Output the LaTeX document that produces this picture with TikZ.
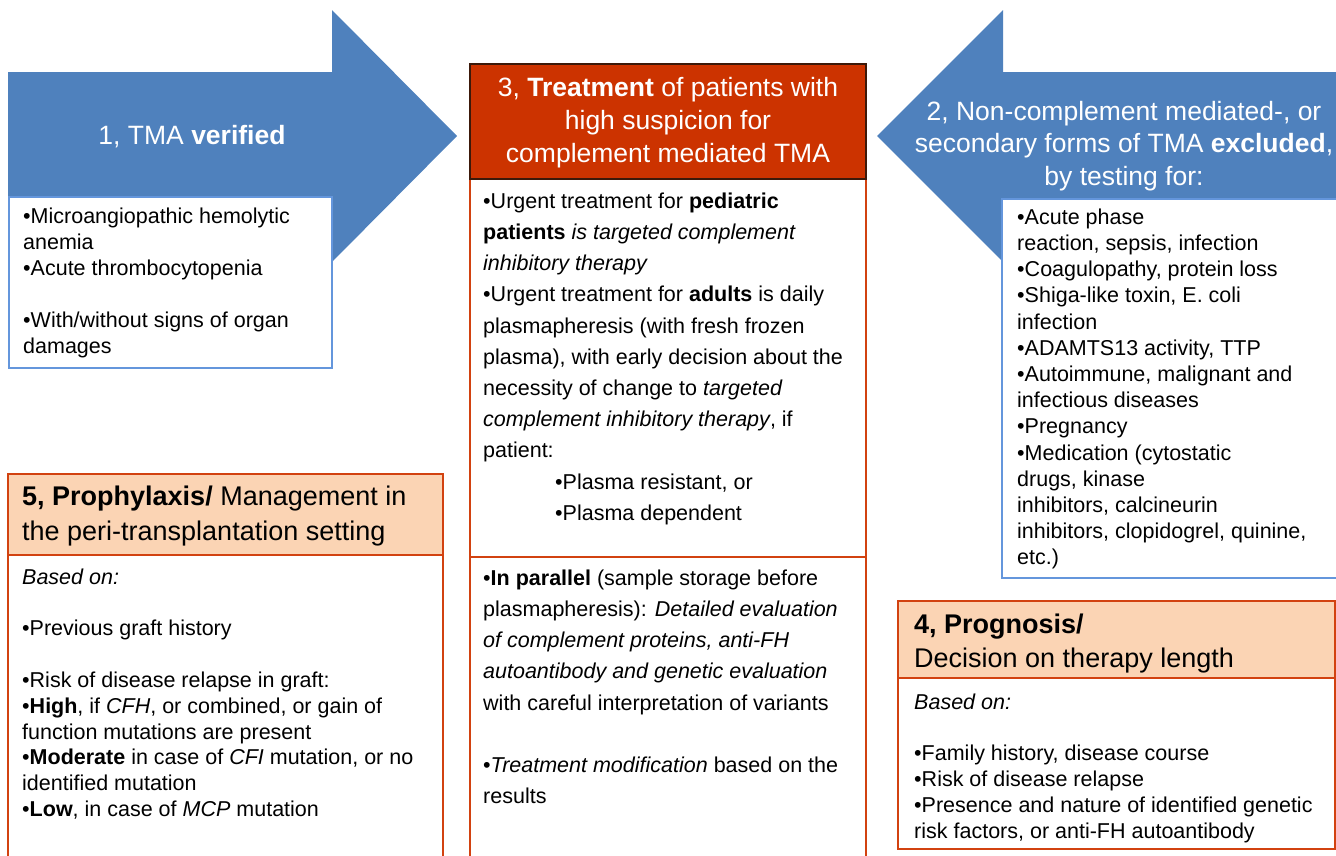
\documentclass[tikz,border=0pt]{standalone}
\usepackage{fontspec}
\setmainfont{Liberation Sans}
\definecolor{arrowblue}{RGB}{79,129,189}
\definecolor{boxblue}{RGB}{100,150,220}
\definecolor{hdrred}{RGB}{204,51,0}
\definecolor{hdrborder}{RGB}{60,25,10}
\definecolor{orborder}{RGB}{210,66,16}
\definecolor{peach}{RGB}{251,212,180}
\begin{document}
\begin{tikzpicture}[x=1pt,y=-1pt,
  blockarrow/.style={fill=arrowblue, draw=none},
  bluebox/.style={draw=boxblue, line width=2.5pt, fill=white},
  redhdr/.style={draw=hdrborder, line width=1.5pt, fill=hdrred},
  orbox/.style={draw=orborder, line width=2.5pt, fill=white},
  peachhdr/.style={draw=orborder, line width=2.5pt, fill=peach},
  bodytxt/.style={anchor=north west, inner sep=0pt, align=left, font=\fontsize{21.5}{26}\selectfont},
  widetxt/.style={anchor=north west, inner sep=0pt, align=left, font=\fontsize{21.5}{31.2}\selectfont},
  lowtxt/.style={anchor=north west, inner sep=0pt, align=left, font=\fontsize{21.5}{25.8}\selectfont},
  whitetitle/.style={inner sep=0pt, align=center, text=white, font=\fontsize{26.5}{32.5}\selectfont},
  peachtitle/.style={anchor=north west, inner sep=0pt, align=left, font=\fontsize{27}{35}\selectfont}
]
\useasboundingbox (0,0) rectangle (1336,855);

% ---- block arrows ----
\fill[blockarrow] (8,72) -- (332,72) -- (332,10) -- (457,136) -- (332,262) -- (332,200) -- (8,200) -- cycle;
\fill[blockarrow] (1340,72) -- (1003,72) -- (1003,10) -- (877,136) -- (1003,262) -- (1003,200) -- (1340,200) -- cycle;

% ---- boxes ----
\draw[bluebox] (9,197) rectangle (332,368);
\draw[bluebox] (1002,199) rectangle (1345,578);

\draw[orbox] (470,179) rectangle (866,557);
\draw[orbox] (470,557) rectangle (866,860);
\draw[redhdr] (470,64) rectangle (866,179);

\draw[orbox] (8,555) rectangle (443,862);
\draw[peachhdr] (8,474) rectangle (443,555);

\draw[orbox] (898,678) rectangle (1335,849);
\draw[peachhdr] (898,601) rectangle (1335,678);

% ---- titles ----
\node[whitetitle, anchor=base] (t1) at (192,144) {1, TMA \textbf{verified}};
\node[whitetitle, anchor=north] (t2) at (1124,98)
  {\rule{0pt}{22pt}2, Non-complement mediated-, or\\
   secondary forms of TMA \textbf{excluded},\\
   by testing for:};
\node[whitetitle, anchor=north, font=\fontsize{26.5}{33}\selectfont] (t3) at (668,74)
  {\rule{0pt}{22pt}3, \textbf{Treatment} of patients with\\
   high suspicion for\\
   complement mediated TMA};
\node[peachtitle] (t5) at (22,482)
  {\rule{0pt}{23pt}\textbf{5, Prophylaxis/} Management in\\
   the peri-transplantation setting};
\node[peachtitle, font=\fontsize{27}{34}\selectfont] (t4) at (914,610)
  {\rule{0pt}{23pt}\textbf{4, Prognosis/}\\
   Decision on therapy length};

% ---- body texts ----
\node[bodytxt] (b1) at (23,205)
  {\rule{0pt}{18pt}•Microangiopathic hemolytic\\
   anemia\\
   •Acute thrombocytopenia\\[26pt]
   •With/without signs of organ\\
   damages};

\node[widetxt] (b3a) at (483,190)
  {\rule{0pt}{18pt}•Urgent treatment for \textbf{pediatric}\\
   \textbf{patients} \textit{is targeted complement}\\
   \textit{inhibitory therapy}\\
   •Urgent treatment for \textbf{adults} is daily\\
   plasmapheresis (with fresh frozen\\
   plasma), with early decision about the\\
   necessity of change to \textit{targeted}\\
   \textit{complement inhibitory therapy}, if\\
   patient:\\
   \hspace*{72pt}•Plasma resistant, or\\
   \hspace*{72pt}•Plasma dependent};

\node[widetxt] (b3b) at (483,567)
  {\rule{0pt}{18pt}•\textbf{In parallel} (sample storage before\\
   plasmapheresis): \textit{Detailed evaluation}\\
   \textit{of complement proteins, anti-FH}\\
   \textit{autoantibody and genetic evaluation}\\
   with careful interpretation of variants\\[31.2pt]
   •\textit{Treatment modification} based on the\\
   results};

\node[bodytxt, font=\fontsize{21.5}{26.2}\selectfont] (b2) at (1017,206)
  {\rule{0pt}{18pt}•Acute phase\\
   reaction, sepsis, infection\\
   •Coagulopathy, protein loss\\
   •Shiga-like toxin, E. coli\\
   infection\\
   •ADAMTS13 activity, TTP\\
   •Autoimmune, malignant and\\
   infectious diseases\\
   •Pregnancy\\
   •Medication (cytostatic\\
   drugs, kinase\\
   inhibitors, calcineurin\\
   inhibitors, clopidogrel, quinine,\\
   etc.)};

\node[lowtxt] (b5) at (22,566)
  {\rule{0pt}{18pt}\textit{Based on:}\\[25.8pt]
   •Previous graft history\\[25.8pt]
   •Risk of disease relapse in graft:\\
   •\textbf{High}, if \textit{CFH}, or combined, or gain of\\
   function mutations are present\\
   •\textbf{Moderate} in case of \textit{CFI} mutation, or no\\
   identified mutation\\
   •\textbf{Low}, in case of \textit{MCP} mutation};

\node[lowtxt] (b4) at (914,691)
  {\rule{0pt}{18pt}\textit{Based on:}\\[25.8pt]
   •Family history, disease course\\
   •Risk of disease relapse\\
   •Presence and nature of identified genetic\\
   risk factors, or anti-FH autoantibody};
\end{tikzpicture}
\end{document}
